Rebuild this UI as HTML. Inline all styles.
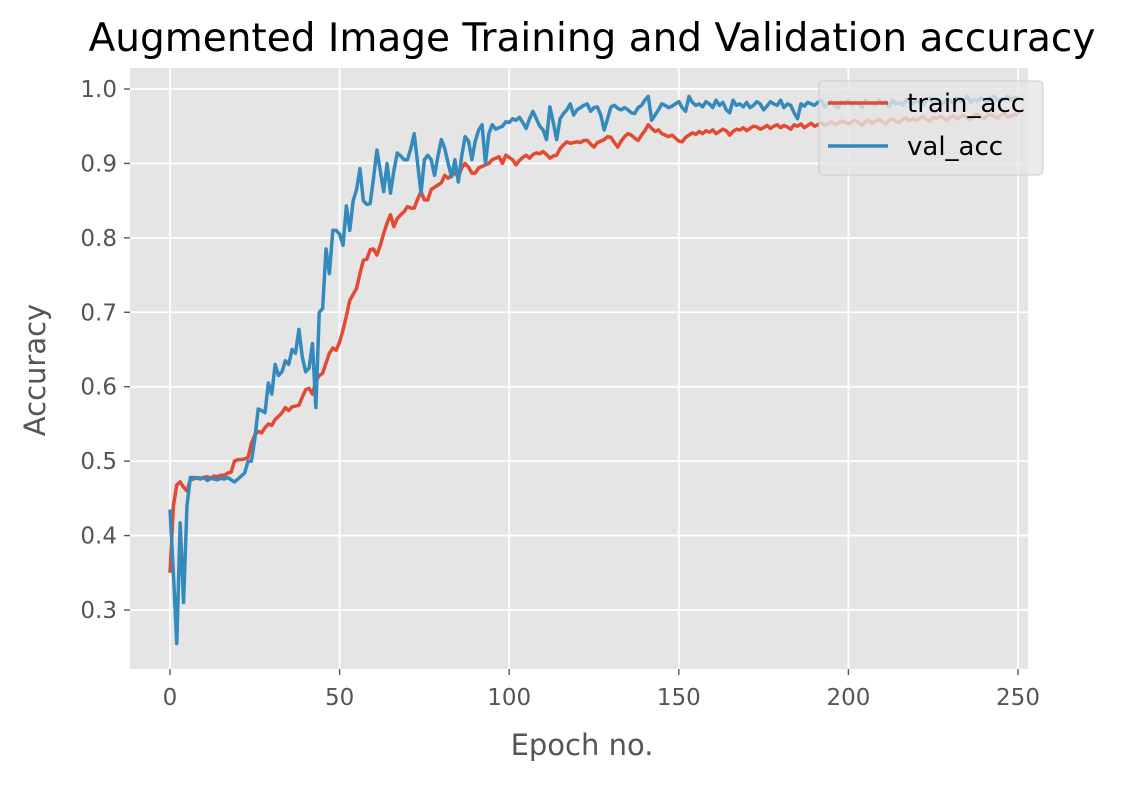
<!DOCTYPE html>
<html><head><meta charset="utf-8"><style>
body{margin:0;background:#fff;}
svg text{font-family:"DejaVu Sans","Liberation Sans",sans-serif;}
</style></head><body>
<svg id="chart" width="1133" height="783" xmlns="http://www.w3.org/2000/svg">
<rect x="0" y="0" width="1133" height="783" fill="#fff"/>
<rect x="130" y="68" width="898" height="601" fill="#e5e5e5"/>
<g id="grid"></g>
<g id="series"></g>
<g id="ticks"></g>
<text x="592" y="51" text-anchor="middle" font-size="39" fill="#000">Augmented Image Training and Validation accuracy</text>
<text x="582" y="755" text-anchor="middle" font-size="29" fill="#555">Epoch no.</text>
<text x="45" y="370" text-anchor="middle" font-size="29" fill="#555" transform="rotate(-90 45 370)">Accuracy</text>
<g>
<rect x="819" y="81" width="224" height="94" rx="4" fill="#e5e5e5" fill-opacity="0.8" stroke="#cccccc" stroke-width="1"/>
<line x1="828" y1="103" x2="888" y2="103" stroke="#E24A33" stroke-width="3.5"/>
<text x="907" y="112" font-size="26" fill="#000">train_acc</text>
<line x1="828" y1="146" x2="888" y2="146" stroke="#348ABD" stroke-width="3.5"/>
<text x="907" y="155" font-size="26" fill="#000">val_acc</text>
</g>
</svg>
<script>
const xTicks=[0,50,100,150,200,250];
const yTicks=[0.3,0.4,0.5,0.6,0.7,0.8,0.9,1.0];
const trainAcc=[.35,.44,.468,.472,.465,.46,.475,.476,.478,.477,
.478,.479,.477,.48,.479,.481,.481,.484,.485,.5,
.502,.502,.503,.505,.524,.535,.54,.538,.545,.55,
.548,.556,.56,.565,.572,.568,.573,.574,.575,.586,
.596,.598,.59,.608,.615,.618,.632,.645,.652,.649,
.66,.676,.695,.716,.724,.732,.752,.77,.771,.784,
.785,.777,.79,.806,.82,.831,.815,.826,.831,.835,
.842,.84,.84,.852,.862,.851,.851,.865,.868,.871,
.874,.884,.88,.884,.887,.882,.894,.9,.895,.887,
.887,.894,.896,.898,.9,.905,.907,.909,.9,.911,
.908,.905,.898,.904,.908,.911,.907,.912,.914,.913,
.916,.912,.907,.91,.911,.92,.925,.929,.927,.928,
.929,.928,.931,.931,.926,.922,.928,.93,.932,.936,
.935,.928,.922,.93,.936,.94,.938,.934,.931,.938,
.944,.952,.947,.943,.945,.94,.938,.936,.938,.934,
.93,.929,.935,.938,.941,.939,.943,.94,.944,.942,
.945,.94,.943,.946,.944,.938,.943,.946,.945,.948,
.944,.947,.95,.949,.946,.948,.951,.947,.95,.952,
.948,.951,.949,.946,.952,.95,.953,.948,.951,.954,
.95,.952,.955,.951,.953,.956,.952,.954,.957,.955,
.953,.956,.958,.955,.951,.956,.958,.954,.957,.959,
.956,.953,.958,.96,.957,.955,.959,.961,.957,.96,
.958,.961,.963,.959,.957,.962,.96,.963,.961,.958,
.962,.964,.96,.963,.965,.961,.959,.964,.966,.962,
.96,.964,.966,.963,.961,.965,.967,.962,.964,.966,.965];
const valAcc=[.435,.35,.255,.417,.31,.44,.478,.478,.477,.476,
.478,.474,.477,.476,.475,.477,.476,.478,.475,.472,
.476,.48,.484,.5,.5,.53,.57,.568,.565,.605,
.59,.63,.615,.62,.635,.63,.65,.645,.677,.64,
.62,.625,.658,.572,.70,.705,.785,.752,.81,.81,
.805,.79,.843,.81,.85,.865,.893,.85,.845,.846,
.88,.918,.89,.862,.9,.86,.89,.914,.91,.905,
.905,.92,.94,.9,.86,.905,.911,.905,.884,.91,
.932,.92,.9,.882,.905,.875,.91,.936,.93,.905,
.93,.945,.952,.9,.94,.952,.946,.948,.95,.956,
.955,.96,.958,.962,.955,.947,.96,.97,.96,.95,
.945,.932,.976,.955,.932,.96,.967,.972,.98,.965,
.972,.975,.978,.98,.97,.975,.976,.965,.945,.96,
.976,.978,.974,.972,.975,.972,.968,.967,.975,.978,
.985,.99,.958,.965,.972,.98,.978,.975,.977,.98,
.983,.975,.97,.99,.982,.978,.98,.976,.983,.98,
.975,.985,.978,.982,.972,.968,.985,.978,.98,.976,
.982,.975,.978,.983,.98,.972,.977,.983,.98,.978,
.985,.975,.98,.978,.968,.96,.98,.977,.982,.98,
.978,.982,.985,.976,.98,.983,.978,.975,.983,.98,
.985,.978,.982,.98,.975,.985,.98,.982,.978,.985,
.98,.983,.976,.985,.98,.982,.978,.985,.983,.98,
.985,.982,.978,.985,.988,.98,.983,.985,.98,.987,
.985,.98,.988,.983,.985,.99,.982,.986,.984,.988,
.985,.983,.988,.99,.984,.987,.985,.99,.986,.988,.988];
const NS='http://www.w3.org/2000/svg';
const xs=v=>170+v*(1018-170)/250;
const ys=v=>89+(1.0-v)*(610-89)/0.7;
const grid=document.getElementById('grid'),ticks=document.getElementById('ticks'),series=document.getElementById('series');
function mk(tag,attrs,parent){const e=document.createElementNS(NS,tag);for(const k in attrs)e.setAttribute(k,attrs[k]);parent.appendChild(e);return e;}
xTicks.forEach(t=>{
  const g=mk('line',{x1:xs(t),x2:xs(t),y1:68,y2:669,stroke:'#fff','stroke-width':1.8},grid);
  
  
  const tk=mk('line',{x1:xs(t),x2:xs(t),y1:669,y2:675,stroke:'#555','stroke-width':1.4},ticks);
  
  
  const l=mk('text',{x:xs(t),y:705,'text-anchor':'middle','font-size':23,fill:'#555'},ticks);
  
  
  l.textContent=t;
});
yTicks.forEach(t=>{
  const g=mk('line',{x1:130,x2:1028,y1:ys(t),y2:ys(t),stroke:'#fff','stroke-width':1.8},grid);
  
  
  const tk=mk('line',{x1:124,x2:130,y1:ys(t),y2:ys(t),stroke:'#555','stroke-width':1.4},ticks);
  
  
  const l=mk('text',{x:117,y:ys(t)+8,'text-anchor':'end','font-size':23,fill:'#555'},ticks);
  
  
  l.textContent=t.toFixed(1);
});
function line(arr,color,name){
  const d=arr.map((v,i)=>(i?'L':'M')+xs(i).toFixed(2)+' '+ys(v).toFixed(2)).join(' ');
  const p=mk('path',{d:d,fill:'none',stroke:color,'stroke-width':3.5,'stroke-linejoin':'round'},series);
  
  
}
line(trainAcc,'#E24A33','train-acc-line');
line(valAcc,'#348ABD','val-acc-line');
</script>
</body></html>
